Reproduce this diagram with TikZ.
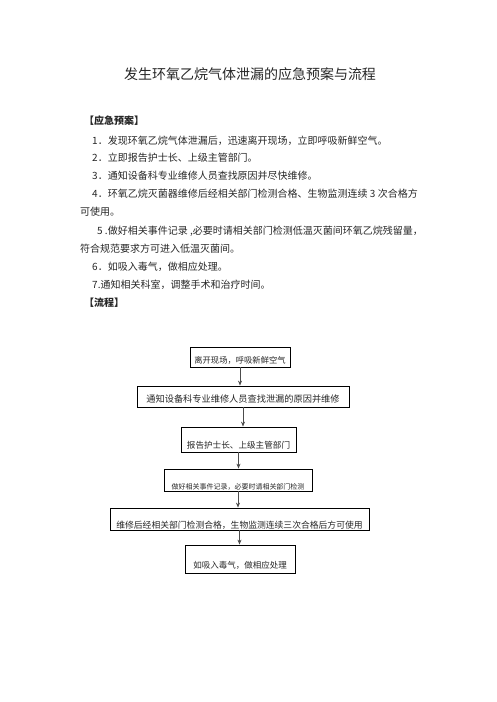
\documentclass[tikz,border=0pt]{standalone}
\usepackage{fontspec}
\setmainfont{Noto Sans CJK SC}
\usetikzlibrary{positioning,arrows.meta}

\begin{document}
\begin{tikzpicture}[x=1pt,y=-1pt,>={Stealth[length=5pt,width=4pt]},
		txt/.style={anchor=west,inner sep=0pt,text=black!85,font=\fontsize{10}{12}\selectfont},
		flowbox/.style={draw,line width=0.8pt,inner xsep=0pt,inner ysep=0pt,align=center,text=black!85},
		flowarrow/.style={->,draw=gray!60!black,line width=0.7pt}]
	\path[use as bounding box] (0,0) rectangle (496,702);
	
	\node[text=black!85,font=\fontsize{14}{16}\selectfont] (title) at (250,74) {发生环氧乙烷气体泄漏的应急预案与流程};
	
	% 应急预案
	\node[txt,font=\fontsize{10}{12}\selectfont\bfseries] (plan) at (84,121) {【应急预案】};
	\node[txt] (p1) at (92,141) {1．发现环氧乙烷气体泄漏后，迅速离开现场，立即呼吸新鲜空气。};
	\node[txt] (p2) at (92,158) {2．立即报告护士长、上级主管部门。};
	\node[txt] (p3) at (92,176) {3．通知设备科专业维修人员查找原因并尽快维修。};
	\node[txt] (p4) at (92,194) {4．环氧乙烷灭菌器维修后经相关部门检测合格、生物监测连续 3 次合格方};
	\node[txt] (p4b) at (80,212) {可使用。};
	\node[txt] (p5) at (97,231) {5 .做好相关事件记录 ,必要时请相关部门检测低温灭菌间环氧乙烷残留量，};
	\node[txt] (p5b) at (80,249) {符合规范要求方可进入低温灭菌间。};
	\node[txt] (p6) at (92,267) {6．如吸入毒气，做相应处理。};
	\node[txt] (p7) at (92,285) {7.通知相关科室，调整手术和治疗时间。};
	\node[txt,font=\fontsize{10}{12}\selectfont\bfseries] (flow) at (84,303) {【流程】};
	
	% 流程
	\node[flowbox,minimum width=100pt,text height=16pt,text depth=4pt,font=\fontsize{8.3}{10}\selectfont] (b1) at (240,357) {离开现场，呼吸新鲜空气};
	\node[flowbox,minimum width=212pt,text height=16.5pt,text depth=4.5pt,font=\fontsize{9.2}{11}\selectfont] (b2) at (243,396.5) {通知设备科专业维修人员查找泄漏的原因并维修};
	\node[flowbox,minimum width=115pt,text height=21.5pt,text depth=3.5pt,font=\fontsize{8.6}{10}\selectfont] (b3) at (238.5,439.5) {报告护士长、上级主管部门};
	\node[flowbox,minimum width=148pt,text height=20pt,text depth=2pt,font=\fontsize{7}{8}\selectfont] (b4) at (238,480) {做好相关事件记录，必要时请相关部门检测};
	\node[flowbox,minimum width=259pt,text height=20pt,text depth=2pt,font=\fontsize{8.8}{10}\selectfont] (b5) at (239.5,519) {维修后经相关部门检测合格，生物监测连续三次合格后方可使用};
	\node[flowbox,minimum width=110pt,text height=23.5pt,text depth=4.5pt,font=\fontsize{8.5}{10}\selectfont] (b6) at (240,559) {如吸入毒气，做相应处理};
	
	\foreach \a/\b in {b1/b2,b2/b3,b3/b4,b4/b5,b5/b6}{
		\draw[flowarrow] (\a.south) -- (\a.south |- \b.north);
	}
\end{tikzpicture}
\end{document}
